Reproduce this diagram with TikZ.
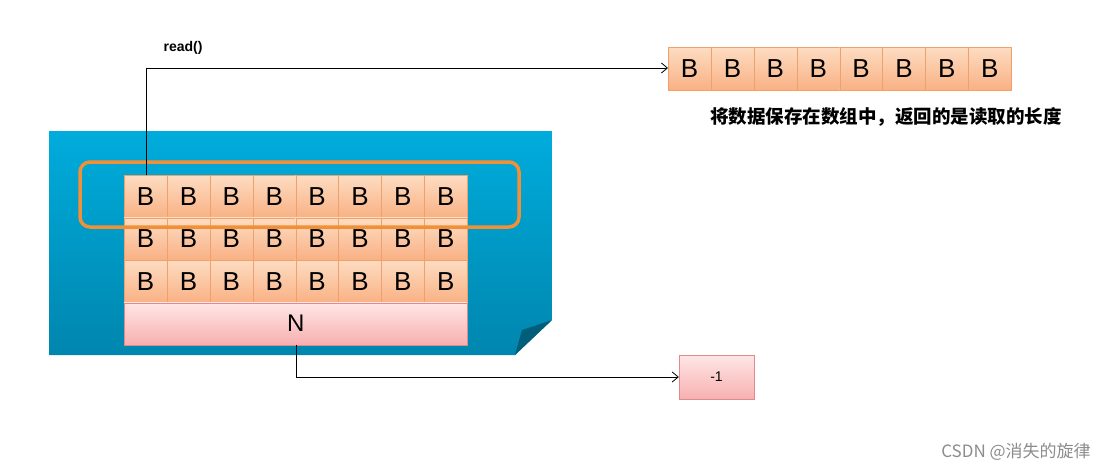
\documentclass[tikz,border=0pt]{standalone}
\usepackage{fontspec}
\setmainfont{Liberation Sans}
\newfontfamily\cjk{Noto Sans CJK SC}
\usetikzlibrary{arrows.meta}
\definecolor{cellA}{HTML}{FDDCC2}
\definecolor{cellB}{HTML}{F9B184}
\definecolor{cellE}{HTML}{F2A06A}
\definecolor{pinkA}{HTML}{FFE6E6}
\definecolor{pinkB}{HTML}{F7B0B0}
\definecolor{pinkE}{HTML}{E08A8A}
\definecolor{blueA}{HTML}{00ACDC}
\definecolor{blueB}{HTML}{0086AE}
\definecolor{ring}{HTML}{F29038}
\tikzset{
  cell/.style={draw=cellE, top color=cellA, bottom color=cellB, minimum width=42.875pt, minimum height=42.5pt, inner sep=0pt, font=\fontsize{26}{26}\selectfont, anchor=north west},
  pinkbox/.style={draw=pinkE, top color=pinkA, bottom color=pinkB, inner sep=0pt},
  conn/.style={draw=black, line width=0.8pt, -{Straight Barb[length=6pt,width=10pt]}}
}
\begin{document}
\begin{tikzpicture}[x=1pt,y=-1pt]
\useasboundingbox (0,0) rectangle (1118,471);
% blue sheet
\shade[top color=blueA, bottom color=blueB] (49,131) -- (552,131) -- (552,320) -- (515,355) -- (49,355) -- cycle;
\fill[blueB!70!black] (552,320) -- (522,330) -- (515,355) -- cycle;
% grid
\foreach \r in {0,1,2}{
  \foreach \c in {0,...,7}{
    \node[cell] (g\r\c) at ({124+\c*42.875},{175+\r*42.5}) {B};
  }
}
\node[pinkbox, minimum width=343pt, minimum height=42pt, anchor=north west, font=\fontsize{24}{24}\selectfont] (nrow) at (124,302.5) {N};
% ring
\draw[ring, line width=3.5pt, rounded corners=10pt] (80,162) rectangle (519,227);
% top array
\foreach \c in {0,...,7}{
  \node[cell] (t\c) at ({668+\c*42.875},47) {B};
}
\node[font=\cjk\bfseries\fontsize{18.5}{18.5}\selectfont] (msg) at (886,117) {将数据保存在数组中，返回的是读取的长度};
% -1 box
\node[pinkbox, minimum width=75pt, minimum height=44pt, font=\fontsize{14}{14}\selectfont] (neg) at (716.5,377) {-1};
% connectors
\draw[conn] (146,175) -- (146,68) -- (t0.west |- 0,68);
\draw[conn] (nrow.south -| 296,0) |- (neg.west);
\node[font=\bfseries\fontsize{14}{14}\selectfont] (rd) at (183,48) {read()};
\node[font=\cjk\fontsize{17}{17}\selectfont, text=black!45] (wm) at (1016,452) {CSDN @消失的旋律};
\end{tikzpicture}
\end{document}
